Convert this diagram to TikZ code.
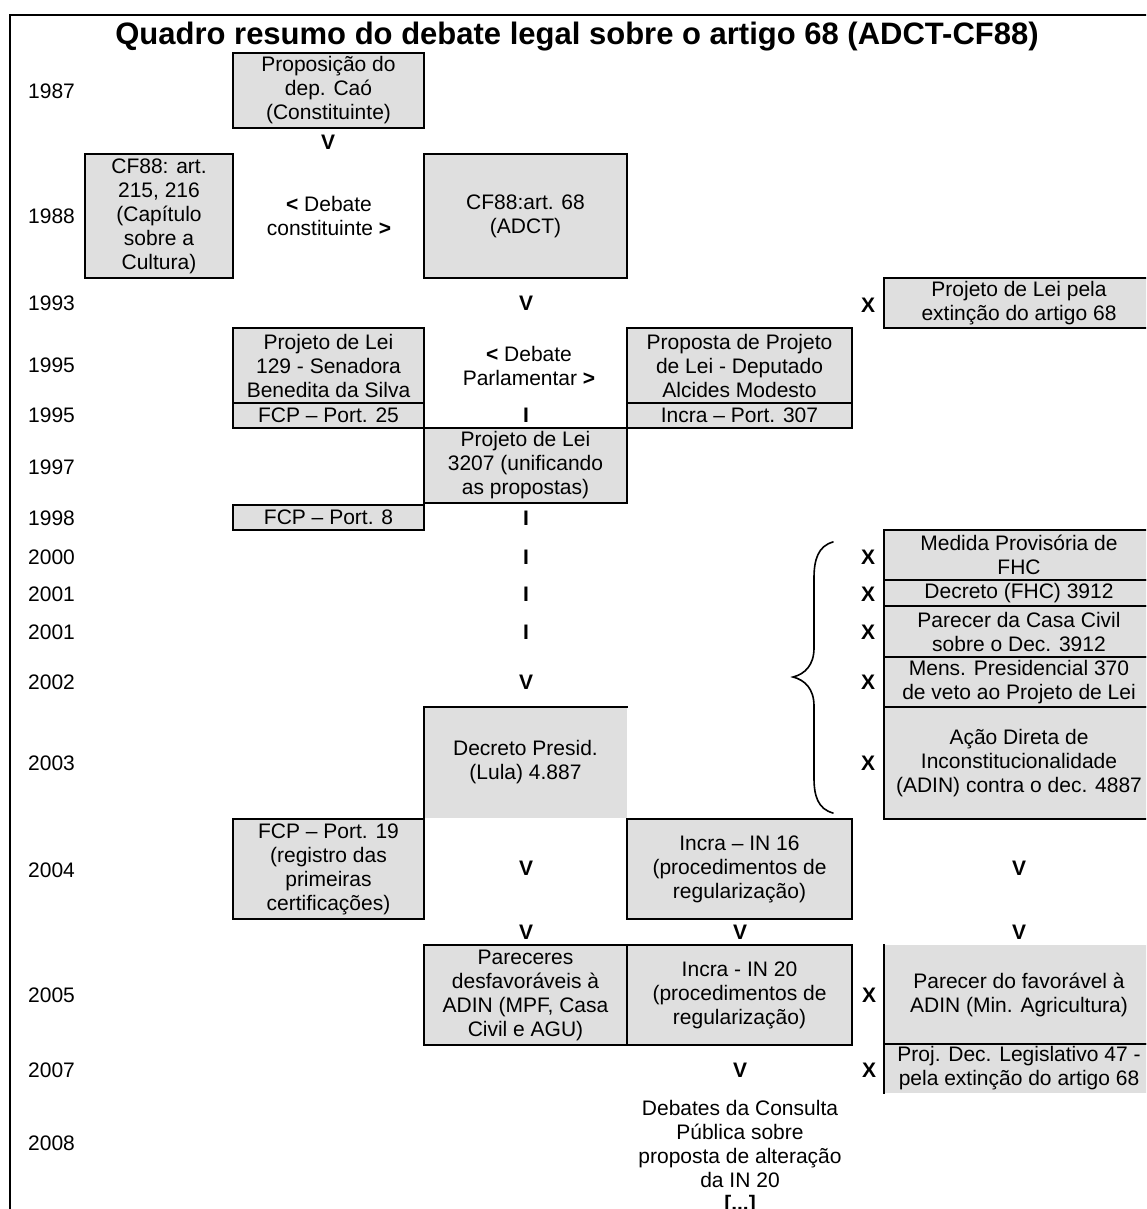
\documentclass[tikz,border=0pt]{standalone}
\usepackage{fontspec}
\setmainfont{Liberation Sans}
\definecolor{boxgray}{HTML}{DFDFDF}
\newcommand\bodyfont{\fontsize{21}{24}\selectfont}
\begin{document}
\begin{tikzpicture}[x=1pt,y=-1pt,
  box/.style={draw=black, line width=2pt, fill=boxgray, inner sep=0pt, align=center, font=\bodyfont},
  fillbox/.style={fill=boxgray, inner sep=0pt, align=center, font=\bodyfont},
  txt/.style={inner sep=0pt, align=center, font=\bodyfont},
  sym/.style={inner sep=0pt, font=\bodyfont\bfseries},
  yr/.style={anchor=west, inner sep=0pt, font=\bodyfont},
  edge/.style={line width=2pt, line cap=rect}
]
\useasboundingbox (0,0) rectangle (1146,1209);
\clip (0,0) rectangle (1146,1209);
\fill[white] (0,0) rectangle (1146,1209);
% frame
\draw[line width=2pt] (10,1240) -- (10,15) -- (1170,15) -- (1170,1240);
% title
\node[font=\fontsize{31}{36}\selectfont\bfseries, inner sep=0pt, anchor=base] (title) at (577,45) {Quadro resumo do debate legal sobre o artigo 68 (ADCT-CF88)};

% years
\node[yr] (y1987) at (28,91) {1987};
\node[yr] (y1988) at (28,216) {1988};
\node[yr] (y1993) at (28,303) {1993};
\node[yr] (y1995a) at (28,365) {1995};
\node[yr] (y1995b) at (28,415) {1995};
\node[yr] (y1997) at (28,467) {1997};
\node[yr] (y1998) at (28,518) {1998};
\node[yr] (y2000) at (28,557) {2000};
\node[yr] (y2001a) at (28,594) {2001};
\node[yr] (y2001b) at (28,632) {2001};
\node[yr] (y2002) at (28,682) {2002};
\node[yr] (y2003) at (28,763) {2003};
\node[yr] (y2004) at (28,870) {2004};
\node[yr] (y2005) at (28,995) {2005};
\node[yr] (y2007) at (28,1070) {2007};
\node[yr] (y2008) at (28,1143) {2008};

% 1987 / 1988
\node[box, minimum width=191pt, minimum height=75pt] (prop) at (328.5,90.5) {Proposição do\\dep. Caó\\(Constituinte)};
\node[sym] (v1) at (328,142) {V};
\node[box, minimum width=148pt, minimum height=124pt] (cfa) at (159,216) {CF88: art.\\215, 216\\(Capítulo\\sobre a\\Cultura)};
\node[txt] (debc) at (329,216) {{\bfseries <} Debate\\constituinte {\bfseries >}};
\node[box, minimum width=203pt, minimum height=124pt] (cf68) at (525.5,216) {CF88:art. 68\\(ADCT)};

% 1993
\node[sym] (v2) at (526,303) {V};
\node[sym] (x1) at (868,305) {X};
\node[box, minimum width=270pt, minimum height=50pt] (pl68x) at (1019,303) {Projeto de Lei pela\\extinção do artigo 68};

% 1995
\node[box, minimum width=191pt, minimum height=75pt] (pl129) at (328.5,365.5) {Projeto de Lei\\129 - Senadora\\Benedita da Silva};
\node[txt] (debp) at (529,366) {{\bfseries <} Debate\\Parlamentar {\bfseries >}};
\node[box, minimum width=225pt, minimum height=75pt] (propam) at (739.5,365.5) {Proposta de Projeto\\de Lei - Deputado\\Alcides Modesto};
\node[box, minimum width=191pt, minimum height=25pt] (fcp25) at (328.5,415.5) {FCP – Port. 25};
\node[sym] (i1) at (526,415) {I};
\node[box, minimum width=225pt, minimum height=25pt] (inc307) at (739.5,415.5) {Incra – Port. 307};

% 1997 / 1998
\node[box, minimum width=203pt, minimum height=75pt] (pl3207) at (525.5,465.5) {Projeto de Lei\\3207 (unificando\\as propostas)};
\node[box, minimum width=191pt, minimum height=25pt] (fcp8) at (328.5,517.5) {FCP – Port. 8};
\node[sym] (i2) at (526,518) {I};

% 2000 - 2003
\node[sym] (i3) at (526,557) {I};
\node[sym] (i4) at (526,594) {I};
\node[sym] (i5) at (526,632) {I};
\node[sym] (v3) at (526,682) {V};
\node[sym] (x2) at (868,557) {X};
\node[sym] (x3) at (868,594) {X};
\node[sym] (x4) at (868,632) {X};
\node[sym] (x5) at (868,682) {X};
\node[sym] (x6) at (868,763) {X};
\node[box, minimum width=270pt, minimum height=50pt] (mp) at (1019,555) {Medida Provisória de\\FHC};
\node[box, minimum width=270pt, minimum height=26pt] (dec3912) at (1019,593) {Decreto (FHC) 3912};
\node[box, minimum width=270pt, minimum height=51pt] (parcc) at (1019,631.5) {Parecer da Casa Civil\\sobre o Dec. 3912};
\node[box, minimum width=270pt, minimum height=50pt] (mens) at (1019,682) {Mens. Presidencial 370\\de veto ao Projeto de Lei};
\node[box, minimum width=270pt, minimum height=112pt] (adin) at (1019,763) {Ação Direta de\\Inconstitucionalidade\\(ADIN) contra o dec. 4887};
\node[fillbox, minimum width=203pt, minimum height=111pt] (declula) at (525.5,762.5) {Decreto Presid.\\(Lula) 4.887};
\draw[edge] (declula.south west) -- (declula.north west) -- (declula.north east);
% brace
\draw[line width=1.6pt, line cap=round] (833,542) .. controls (818,546) and (814,560) .. (814,578) -- (814,648) .. controls (814,665) and (805,674) .. (793,677) .. controls (805,680) and (814,689) .. (814,706) -- (814,778) .. controls (814,796) and (818,809) .. (833,813);

% 2004
\node[box, minimum width=191pt, minimum height=100pt] (fcp19) at (328.5,869) {FCP – Port. 19\\(registro das\\primeiras\\certificações)};
\node[sym] (v4) at (526,868) {V};
\node[box, minimum width=225pt, minimum height=100pt] (in16) at (739.5,869) {Incra – IN 16\\(procedimentos de\\regularização)};
\node[sym] (v5) at (1019,868) {V};
\node[sym] (v6) at (526,932) {V};
\node[sym] (v7) at (740,932) {V};
\node[sym] (v8) at (1019,932) {V};

% 2005
\node[box, minimum width=203pt, minimum height=100pt] (parec) at (525.5,995) {Pareceres\\desfavoráveis à\\ADIN (MPF, Casa\\Civil e AGU)};
\node[box, minimum width=225pt, minimum height=100pt] (in20) at (739.5,995) {Incra - IN 20\\(procedimentos de\\regularização)};
\node[sym] (x7) at (869,995) {X};
\node[fillbox, minimum width=270pt, minimum height=99pt] (parfav) at (1019,994.5) {Parecer do favorável à\\ADIN (Min. Agricultura)};
\draw[edge] (parfav.north west) -- (parfav.south west) -- (parfav.south east);

% 2007
\node[sym] (v9) at (740,1070) {V};
\node[sym] (x8) at (869,1070) {X};
\node[fillbox, minimum width=270pt, minimum height=49pt] (pdl47) at (1019,1068.5) {Proj. Dec. Legislativo 47 -\\pela extinção do artigo 68};
\draw[edge] (pdl47.south west) -- (pdl47.north west) -- (pdl47.north east);

% 2008
\node[txt] (consulta) at (740,1143.5) {Debates da Consulta\\Pública sobre\\proposta de alteração\\da IN 20};
\node[sym] (etc) at (740,1205) {[...]};
\end{tikzpicture}
\end{document}
